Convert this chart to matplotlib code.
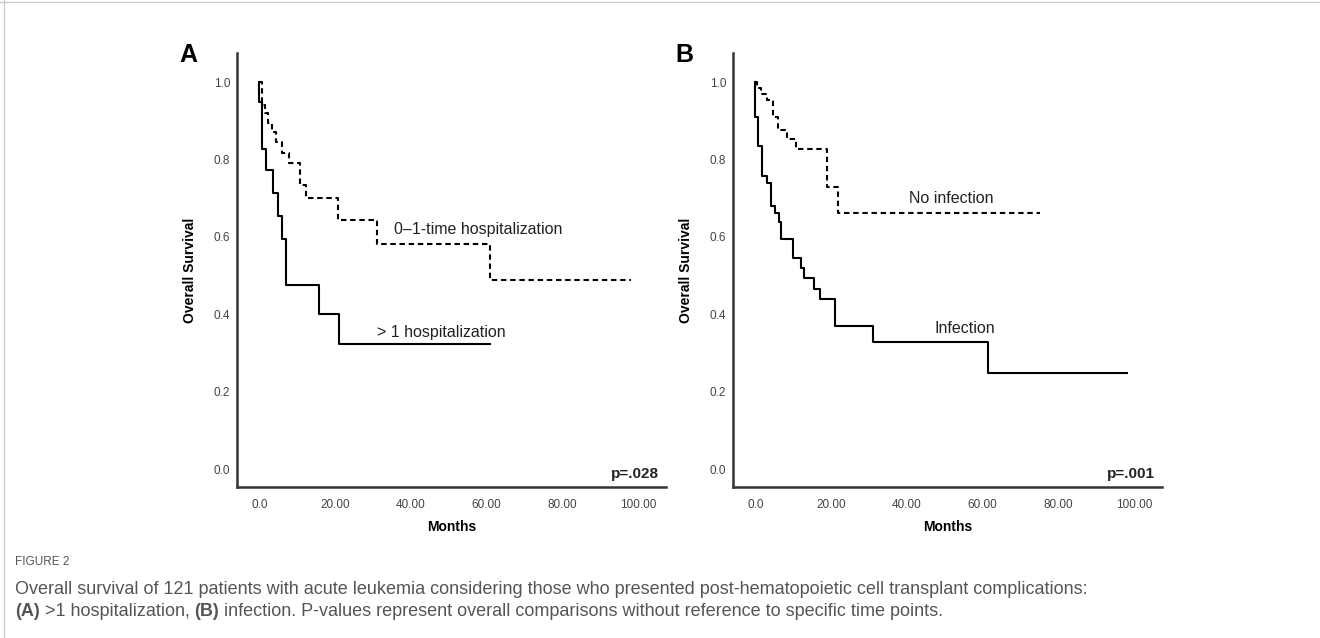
import matplotlib
matplotlib.use("Agg")
import matplotlib.pyplot as plt
from matplotlib.lines import Line2D

plt.rcParams['font.family'] = ['Liberation Sans', 'DejaVu Sans']

# panel A: >1 hospitalization vs 0-1 time
a_multi_t = [0, 0, 0.7, 1.7, 3.7, 4.9, 5.9, 7.0, 15.7, 21.0, 60.8]
a_multi_s = [1.0, 0.948, 0.827, 0.773, 0.713, 0.654, 0.594, 0.475, 0.40, 0.323, 0.323]
a_low_t = [0, 0.8, 1.6, 2.4, 3.4, 4.4, 6.0, 7.8, 10.7, 12.2, 20.7, 31.0, 60.8, 98.0]
a_low_s = [1.0, 0.94, 0.92, 0.895, 0.87, 0.845, 0.816, 0.79, 0.735, 0.70, 0.643, 0.581, 0.488, 0.488]

# panel B: infection vs no infection
b_inf_t = [0, 0, 0.7, 1.7, 3.0, 4.1, 5.1, 6.2, 6.7, 9.9, 12.0, 12.8, 15.4, 17.0, 21.0, 31.0, 61.3, 98.0]
b_inf_s = [1.0, 0.910, 0.835, 0.757, 0.739, 0.680, 0.662, 0.638, 0.594, 0.545, 0.519, 0.494, 0.465,
           0.439, 0.370, 0.328, 0.248, 0.248]
b_noinf_t = [0, 0.5, 1.6, 3.0, 4.6, 5.9, 8.3, 10.7, 18.9, 21.8, 75.1]
b_noinf_s = [1.0, 0.985, 0.97, 0.953, 0.91, 0.876, 0.853, 0.827, 0.729, 0.662, 0.662]

xticks = [0, 20, 40, 60, 80, 100]
xticklabels = ['0.0', '20.00', '40.00', '60.00', '80.00', '100.00']
yticks = [0.0, 0.2, 0.4, 0.6, 0.8, 1.0]

fig = plt.figure(figsize=(13.2, 6.38), dpi=100)
W, H = 1320, 638


def make_axes(left_px):
    ax = fig.add_axes([left_px / W, 1 - 487 / H, 429 / W, 434 / H])
    ax.set_xlim(-5.9, 107.3)
    ax.set_ylim(-0.0465, 1.075)
    for s in ['top', 'right']:
        ax.spines[s].set_visible(False)
    for s in ['left', 'bottom']:
        ax.spines[s].set_color('#333333')
        ax.spines[s].set_linewidth(1.8)
    ax.set_xticks(xticks)
    ax.set_xticklabels(xticklabels)
    ax.set_yticks(yticks)
    ax.set_yticklabels(['%.1f' % v for v in yticks])
    ax.tick_params(length=0, labelsize=8.5, labelcolor='#444444', pad=5)
    ax.tick_params(axis='x', pad=9)
    ax.set_xlabel('Months', fontsize=10, fontweight='bold', labelpad=6)
    ax.set_ylabel('Overall Survival', fontsize=10, fontweight='bold', labelpad=12)
    return ax


axA = make_axes(237)
axA.step(a_low_t, a_low_s, where='post', color='black', lw=1.5, linestyle=(0, (2.6, 1.8)))
axA.step(a_multi_t, a_multi_s, where='post', color='black', lw=1.5)
axA.text(35.5, 0.62, '0\u20131-time hospitalization', fontsize=11.5, va='center', color='#222222')
axA.text(31.0, 0.354, '> 1 hospitalization', fontsize=11.5, va='center', color='#222222')
axA.text(105.4, -0.013, 'p=.028', fontsize=11, fontweight='bold', ha='right', va='center', color='#222222')
fig.text(188 / W, 1 - 55 / H, 'A', fontsize=18, fontweight='bold', ha='center', va='center')

axB = make_axes(733)
axB.step(b_noinf_t, b_noinf_s, where='post', color='black', lw=1.5, linestyle=(0, (2.6, 1.8)))
axB.step(b_inf_t, b_inf_s, where='post', color='black', lw=1.5)
axB.text(40.6, 0.70, 'No infection', fontsize=11.5, va='center', color='#222222')
axB.text(47.4, 0.362, 'Infection', fontsize=11.5, va='center', color='#222222')
axB.text(105.4, -0.013, 'p=.001', fontsize=11, fontweight='bold', ha='right', va='center', color='#222222')
fig.text(684 / W, 1 - 55 / H, 'B', fontsize=18, fontweight='bold', ha='center', va='center')

# frame lines
fig.add_artist(Line2D([0, 1], [1 - 1.5 / H, 1 - 1.5 / H], color='#cccccc', lw=1))
fig.add_artist(Line2D([3.5 / W, 3.5 / W], [0, 1], color='#cccccc', lw=1))

# caption
cap_font = ['Liberation Sans', 'DejaVu Sans']
cap_color = '#555555'
cap_size = 13
fig.text(15 / W, 1 - 562 / H, 'FIGURE 2', fontsize=8.5, color=cap_color, family=cap_font, va='center')
fig.text(15 / W, 1 - 590 / H,
         'Overall survival of 121 patients with acute leukemia considering those who presented '
         'post-hematopoietic cell transplant complications:',
         fontsize=cap_size, color=cap_color, family=cap_font, va='center')

renderer = fig.canvas.get_renderer()
pieces = [('(A)', 'bold'), (' >1 hospitalization, ', 'normal'), ('(B)', 'bold'),
          (' infection. P-values represent overall comparisons without reference to specific time points.',
           'normal')]
x = 15
for txt, wt in pieces:
    t = fig.text(x / W, 1 - 611 / H, txt, fontsize=cap_size, color=cap_color, family=cap_font,
                 fontweight=wt, va='center')
    bb = t.get_window_extent(renderer=renderer)
    x += bb.width

fig.savefig('out.png', dpi=100)
